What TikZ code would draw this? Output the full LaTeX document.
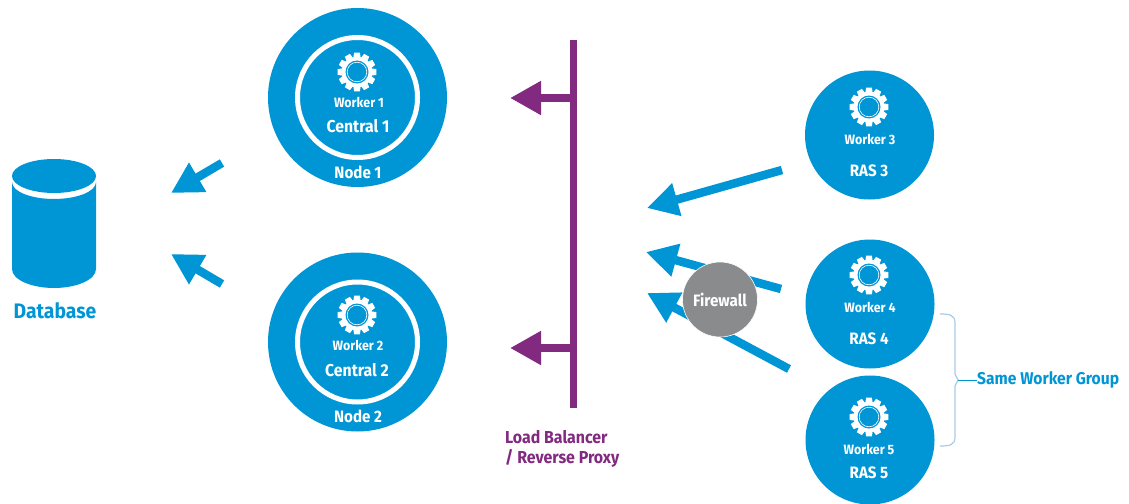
\documentclass[tikz,border=0pt]{standalone}
\usepackage{fontspec}
\setmainfont{Fira Sans}[FakeStretch=0.92,BoldFont={Fira Sans Bold}]
\usetikzlibrary{arrows.meta,shapes.geometric}
\definecolor{hpblue}{HTML}{0096D6}
\definecolor{hppurple}{HTML}{822980}
\definecolor{fwgray}{HTML}{8A8B8D}
\definecolor{bracecol}{HTML}{A9CCE6}
\tikzset{
  disc/.style={circle,fill=hpblue,draw=none,inner sep=0pt,minimum size=#1},
  ringc/.style={circle,draw=white,line width=5pt,fill=none,inner sep=0pt,minimum size=#1},
  lab/.style={text=white,font=\bfseries\fontsize{#1}{#1}\selectfont,inner sep=0pt},
  flow/.style={line width=8.5pt,draw=hpblue,-{Triangle[length=31pt,width=32pt]}},
  flowp/.style={line width=8pt,draw=hppurple,-{Triangle[length=31pt,width=32pt]}},
  gearpic/.pic={
    \foreach \a in {0,30,...,330}{
      \fill[white,rotate=\a] (-2.9,-19.3) -- (2.9,-19.3) -- (3.8,-13) -- (-3.8,-13) -- cycle;
    }
    \fill[white] (0,0) circle (15.2);
    \fill[hpblue] (0,0) circle (11.5);
    \draw[white,line width=0.6pt] (0,0) circle (9.8);
  }
}
\begin{document}
\begin{tikzpicture}[x=1pt,y=-1pt]
\useasboundingbox[fill=white] (0,0) rectangle (1129,503);
% coordinates for free ends
\coordinate (a1s) at (222,163); \coordinate (a1e) at (171,193);
\coordinate (a2s) at (222,284); \coordinate (a2e) at (171,254);
\coordinate (a3s) at (782,170); \coordinate (a3e) at (647,208);
\coordinate (a4s) at (781,289); \coordinate (a4e) at (646,252);
\coordinate (a5s) at (789,369); \coordinate (a5e) at (647,293);
\coordinate (bt) at (573,40); \coordinate (bb) at (573,408);
\coordinate (b1) at (573,98); \coordinate (b1e) at (510,98);
\coordinate (b2) at (573,348); \coordinate (b2e) at (510,348);
% database
\fill[hpblue] (12,182) -- (12,269) .. controls (12,280) and (32,288) .. (54,288) .. controls (76,288) and (96,280) .. (96,269) -- (96,182) .. controls (96,192) and (76,199) .. (54,199) .. controls (32,199) and (12,192) .. (12,182) -- cycle;
\node[ellipse,fill=hpblue,minimum width=84pt,minimum height=34pt,inner sep=0pt] (dbtop) at (54,176) {};
\node[text=hpblue,font=\bfseries\fontsize{21}{21}\selectfont,inner sep=0pt] (db) at (55,311) {Database};
% arrows to database
\draw[flow] (a1s) -- (a1e);
\draw[flow] (a2s) -- (a2e);
% central nodes
\node[disc=179pt] (n1) at (357.5,97.5) {};
\node[ringc=120pt] (r1) at (357.5,97.5) {};
\node[disc=179pt] (n2) at (357.5,342) {};
\node[ringc=120pt] (r2) at (357.5,342) {};
\pic at (357,72) {gearpic};
\pic at (357,315) {gearpic};
\node[lab=13.5] (w1) at (359,102) {Worker 1};
\node[lab=17.2] (c1) at (358,126) {Central 1};
\node[lab=16.5] (t1) at (358,172) {Node 1};
\node[lab=13.5] (w2) at (358,345) {Worker 2};
\node[lab=17.2] (c2) at (357,370) {Central 2};
\node[lab=16.5] (t2) at (358,416) {Node 2};
% load balancer
\draw[flowp] (b1) -- (b1e);
\draw[flowp] (b2) -- (b2e);
\draw[hppurple,line width=7pt] (bt) -- (bb);
\node[text=hppurple,font=\bfseries\fontsize{17.3}{20}\selectfont,align=left,anchor=west,inner sep=0pt] (lb) at (505,448.5) {Load Balancer\\/ Reverse Proxy};
% arrows on the right
\draw[flow] (a3s) -- (a3e);
\draw[flow] (a4s) -- (a4e);
\draw[flow] (a5s) -- (a5e);
\node[circle,fill=fwgray,draw=white,line width=0.6pt,minimum size=75pt,inner sep=0pt,text=white,font=\bfseries\fontsize{16.5}{17}\selectfont] (fw) at (720,299.5) {Firewall};
% RAS
\node[disc=129pt] (s3) at (869.5,135) {};
\node[disc=129pt] (s4) at (870,304) {};
\node[disc=129pt] (s5) at (870,440) {};
\pic at (869,107) {gearpic};
\pic at (869,275) {gearpic};
\pic at (869,417) {gearpic};
\node[lab=13.5] (w3) at (870,139) {Worker 3};
\node[lab=16.5] (l3) at (869,171) {RAS 3};
\node[lab=13.5] (w4) at (870,307) {Worker 4};
\node[lab=16.5] (l4) at (869,339) {RAS 4};
\node[lab=13.5] (w5) at (869,449) {Worker 5};
\node[lab=16.5] (l5) at (869,473) {RAS 5};
% brace
\node[text=hpblue,font=\bfseries\fontsize{17}{18}\selectfont,anchor=west,inner sep=0pt] (grp) at (977,380) {Same Worker Group};
\coordinate (bc) at (958,380);
\draw[bracecol,line width=1.2pt] (940,314) .. controls (950,314) and (955,315) .. (955,323) -- (955,374) -- (bc) -- (955,386) -- (955,437) .. controls (955,445) and (950,446) .. (940,446);
\draw[hpblue,line width=1pt] (bc) -- (grp.west);
\end{tikzpicture}
\end{document}
